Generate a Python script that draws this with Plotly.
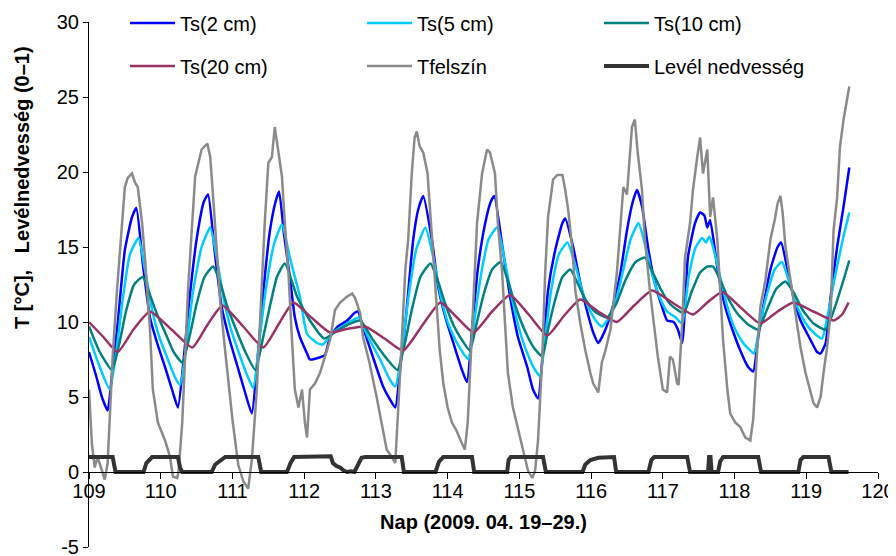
import plotly.graph_objects as go

# ---- data (day of year) ----
t_ts2 = [109.00,109.10,109.18,109.26,109.32,109.40,109.50,109.60,109.66,109.75,109.85,109.95,110.06,110.17,110.24,
         110.32,110.40,110.50,110.60,110.66,110.75,110.85,110.95,111.06,111.17,111.27,
         111.34,111.42,111.52,111.60,111.65,111.72,111.80,111.87,111.94,112.04,112.08,112.19,112.29,112.36,112.47,112.60,112.70,112.75,
         112.83,112.97,113.10,113.20,113.27,113.34,113.41,113.52,113.59,113.66,113.78,113.87,113.97,114.08,114.20,114.27,
         114.34,114.42,114.52,114.60,114.65,114.77,114.87,114.98,115.11,115.19,115.26,
         115.33,115.40,115.50,115.60,115.64,115.75,115.85,115.94,116.03,116.10,116.20,116.30,116.41,116.50,116.58,116.64,
         116.71,116.80,116.89,116.99,117.06,117.15,117.21,117.27,117.35,117.45,117.52,117.58,117.62,117.66,
         117.77,117.87,117.97,118.08,118.19,118.26,118.33,118.40,118.50,118.60,118.65,
         118.73,118.82,118.92,119.06,119.15,119.20,119.27,119.34,119.43,119.52,119.60]
ts2 = [8.0,6.4,5.0,4.1,6.5,9.9,14.8,17.0,17.6,13.9,10.3,8.6,7.0,5.3,4.3,
       7.5,11.5,15.5,18.0,18.5,14.8,11.0,9.0,7.2,5.4,3.9,
       7.0,11.5,16.0,18.0,18.7,15.8,13.0,10.3,9.0,7.9,7.5,7.6,7.8,9.0,9.7,10.1,10.6,10.7,
       9.5,7.5,5.7,4.8,4.3,7.0,9.9,15.5,17.5,18.4,15.5,12.3,10.3,8.6,6.8,6.0,
       9.5,13.5,16.5,18.0,18.4,14.8,11.7,9.0,7.0,5.5,4.9,
       8.1,12.1,14.8,16.6,16.9,15.0,12.6,10.8,9.3,8.6,9.5,11.0,13.3,16.1,18.0,18.8,
       17.7,14.8,12.6,11.0,10.1,10.0,9.5,8.6,14.3,16.6,17.3,17.1,16.3,16.8,
       13.3,11.0,9.5,8.1,7.0,6.7,9.0,11.0,13.5,15.0,15.3,
       13.7,11.7,10.1,8.8,8.0,7.9,8.6,11.7,15.0,17.7,20.3]

t_ts5 = [109.00,109.15,109.29,109.38,109.47,109.57,109.69,109.78,109.88,109.98,110.10,110.20,110.27,
         110.36,110.45,110.57,110.69,110.78,110.88,110.98,111.10,111.20,111.29,
         111.37,111.46,111.58,111.69,111.80,111.94,112.04,112.18,112.26,112.40,112.60,112.76,
         112.89,113.06,113.20,113.27,113.36,113.45,113.56,113.69,113.80,113.90,114.00,114.12,114.22,114.29,
         114.37,114.46,114.57,114.69,114.80,114.90,115.00,115.12,115.22,115.29,
         115.36,115.44,115.55,115.67,115.78,115.88,115.98,116.08,116.15,
         116.25,116.35,116.45,116.55,116.66,116.76,116.86,116.96,117.06,117.18,117.27,
         117.36,117.46,117.55,117.60,117.65,117.70,117.80,117.90,118.00,118.12,118.22,118.27,
         118.36,118.46,118.56,118.66,118.76,118.86,118.98,119.10,119.22,119.30,119.40,119.50,119.60]
ts5 = [9.0,7.0,5.5,8.0,11.5,14.5,15.6,13.5,10.8,9.0,7.5,6.3,5.8,
       8.5,12.0,15.0,16.3,14.3,11.5,9.5,7.8,6.5,5.6,
       8.5,12.0,15.2,16.5,14.3,11.7,9.2,8.6,8.5,9.3,9.9,10.3,
       9.0,7.5,6.1,5.7,8.0,11.5,14.8,16.3,14.3,11.8,10.0,8.7,7.9,7.5,
       10.0,13.0,15.5,16.3,14.0,11.5,9.5,7.8,6.8,6.4,
       9.0,12.0,14.5,15.3,13.8,12.0,10.8,10.0,9.7,
       10.3,11.5,13.5,15.5,16.6,15.0,13.0,11.6,10.7,10.3,9.9,
       13.0,15.0,15.6,15.3,15.7,15.0,13.0,11.0,9.6,8.6,8.1,7.9,
       10.0,12.0,13.5,14.0,12.7,11.2,10.0,9.3,8.9,10.5,13.0,15.3,17.3]

t_ts10 = [109.00,109.15,109.32,109.42,109.52,109.63,109.75,109.85,109.95,110.07,110.18,110.30,
          110.40,110.50,110.61,110.73,110.83,110.93,111.05,111.18,111.32,
          111.42,111.52,111.62,111.73,111.90,112.08,112.28,112.45,112.60,112.78,
          112.96,113.16,113.30,113.40,113.50,113.62,113.76,113.86,113.96,114.08,114.20,114.31,
          114.40,114.50,114.62,114.74,114.85,114.95,115.07,115.20,115.32,
          115.40,115.50,115.60,115.71,115.82,115.92,116.05,116.22,
          116.35,116.48,116.62,116.75,116.86,116.97,117.10,117.29,
          117.40,117.52,117.62,117.70,117.80,117.92,118.05,118.20,118.33,
          118.45,118.58,118.71,118.82,118.95,119.10,119.27,119.40,119.50,119.60]
ts10 = [9.7,8.0,6.8,8.5,10.8,12.5,13.0,11.8,10.5,9.2,8.0,7.3,
        9.0,11.2,13.0,13.7,12.6,11.0,9.5,8.0,6.8,
        8.8,11.0,13.0,13.9,11.7,10.1,8.9,9.4,9.8,10.1,
        8.8,7.5,6.8,8.5,10.8,13.0,13.9,12.8,11.3,9.8,8.8,8.1,
        9.8,11.8,13.5,14.0,12.6,11.0,9.5,8.3,7.7,
        9.5,11.5,13.0,13.5,12.5,11.5,10.7,10.3,
        11.2,12.8,14.0,14.3,13.3,12.2,11.2,10.6,
        12.0,13.3,13.7,13.7,12.8,11.5,10.5,9.8,9.5,
        10.8,12.2,12.7,12.0,10.8,9.9,9.5,11.0,12.5,14.1]

t_ts20 = [109.00,109.20,109.40,109.62,109.85,110.15,110.44,110.65,110.86,111.15,111.43,111.65,111.85,
          112.10,112.36,112.60,112.85,113.12,113.38,113.65,113.90,114.13,114.36,114.62,114.87,
          115.13,115.39,115.62,115.85,116.10,116.36,116.60,116.85,117.13,117.42,117.62,117.83,
          118.10,118.36,118.60,118.82,119.10,119.38,119.50,119.59]
ts20 = [10.0,9.0,8.0,9.5,10.7,9.5,8.3,9.8,11.1,9.7,8.3,9.9,11.3,
        10.3,9.3,9.55,9.7,8.9,8.1,9.8,11.3,10.3,9.3,10.7,11.8,
        10.5,9.1,10.4,11.5,10.7,10.0,11.1,12.1,11.3,10.5,11.3,12.0,
        10.9,9.9,10.7,11.3,10.7,10.1,10.5,11.3]

t_surf = [109.00,109.04,109.08,109.12,109.18,109.22,109.26,109.29,109.33,109.39,109.46,109.50,109.54,109.60,109.64,109.68,
          109.74,109.78,109.85,109.89,109.96,110.06,110.13,110.17,110.23,110.25,
          110.30,110.38,110.48,110.57,110.65,110.69,110.74,110.83,110.90,111.00,111.08,111.15,111.22,
          111.27,111.34,111.38,111.45,111.50,111.55,111.59,111.64,111.69,111.73,111.78,111.83,111.87,111.92,111.97,112.01,112.04,
          112.08,112.15,112.22,112.29,112.36,112.43,112.50,112.60,112.67,112.71,112.78,112.82,112.91,113.01,113.09,113.15,113.22,113.27,
          113.34,113.41,113.45,113.50,113.54,113.57,113.61,113.66,113.72,113.76,113.80,113.85,113.89,113.94,114.00,114.06,114.12,114.20,114.24,
          114.28,114.34,114.41,114.48,114.55,114.59,114.66,114.70,114.76,114.80,114.84,114.91,114.98,115.05,115.12,115.18,115.22,
          115.26,115.32,115.36,115.40,115.47,115.53,115.60,115.64,115.68,115.74,115.78,115.85,115.92,115.99,116.03,116.10,
          116.15,116.20,116.27,116.36,116.43,116.45,116.50,116.55,116.57,116.61,116.65,116.71,116.75,116.82,116.89,116.93,117.00,117.06,
          117.10,117.14,117.20,117.22,117.27,117.31,117.38,117.42,117.48,117.52,117.56,117.62,117.66,117.70,117.76,117.80,117.84,117.90,
          117.94,118.01,118.08,118.15,118.22,118.26,118.31,118.36,118.43,118.50,118.56,118.60,118.64,118.67,118.71,118.78,118.85,118.92,
          118.99,119.06,119.10,119.15,119.20,119.24,119.29,119.34,119.38,119.43,119.47,119.52,119.57,119.60]
surf = [5.5,1.9,0.3,1.0,0.1,-0.5,0.6,3.3,7.7,12.1,16.6,19.0,19.6,19.9,19.3,19.0,
        16.6,14.3,9.5,5.5,3.3,2.1,1.0,-0.3,-0.4,0.1,
        3.3,12.1,19.7,21.5,21.9,21.0,17.7,11.3,8.0,3.5,0.5,-0.6,-1.1,
        0.8,5.5,9.9,16.6,20.6,21.0,23.0,21.5,19.7,16.6,13.3,8.8,5.5,4.3,5.5,3.3,2.3,
        5.5,5.9,6.6,7.7,8.8,10.8,11.3,11.7,11.9,11.6,10.6,9.0,7.3,5.0,3.0,1.5,1.0,0.6,
        6.8,13.5,15.5,19.9,22.3,22.7,21.7,21.3,19.9,17.0,14.3,11.0,8.1,5.9,4.3,3.3,2.8,1.9,1.5,
        3.3,9.9,16.6,19.9,21.5,21.3,19.9,16.6,13.3,9.9,6.6,4.3,2.8,1.5,0.1,-0.4,0.1,
        2.1,7.7,13.3,17.0,19.5,19.8,19.8,18.8,17.5,14.8,12.1,9.9,8.1,6.6,5.9,5.3,
        7.3,8.1,9.5,13.3,17.7,19.0,18.5,22.1,23.0,23.5,21.3,18.8,15.5,12.1,9.5,7.7,5.5,5.3,
        7.7,7.5,5.9,5.8,9.9,14.3,16.6,18.8,21.0,22.3,19.9,21.5,17.0,18.3,15.5,12.1,8.8,5.5,
        3.9,3.3,3.0,2.3,2.1,3.5,7.7,11.0,12.8,15.5,16.8,17.9,18.4,17.3,15.0,12.8,10.6,8.3,
        6.6,5.3,4.6,4.3,5.0,6.6,8.3,10.6,16.1,18.3,21.7,23.5,25.0,25.7]

t_leaf = [109.00,109.33,109.37,109.76,109.80,109.86,109.88,110.24,110.27,110.30,110.71,110.76,110.84,110.90,111.36,111.40,
          111.76,111.81,111.86,112.33,112.37,112.40,112.45,112.50,112.55,112.60,112.65,112.70,112.73,112.76,112.80,112.85,
          113.36,113.39,113.83,113.88,113.94,114.34,114.37,114.83,114.85,114.88,115.33,115.37,
          115.88,115.92,115.99,116.10,116.22,116.32,116.35,116.80,116.84,116.88,117.34,117.38,
          117.63,117.645,117.665,117.68,117.77,117.80,117.84,118.33,118.37,118.89,118.92,118.96,119.31,119.35,119.59]
leaf = [1,1,0,0,0.6,0.95,1,1,0.3,0,0,0.5,0.8,1,1,0,
        0,0.6,1,1,1.05,0.6,0.4,0.3,0.1,0.0,0.05,0.0,0.3,0.7,0.95,1.0,
        1,0,0,0.7,1,1,0,0,0.8,1,1,0,
        0,0.5,0.8,0.95,1.0,1.0,0,0,0.8,1,1,0,
        0,1,1,0,0,0.7,1,1,0,0,0.8,1,1,0,0]

x_ticks = list(range(109, 121))
y_ticks = [-5, 0, 5, 10, 15, 20, 25, 30]
y_tick_text = ["-5", "0", "5", "10", "15", "20", "25", "30"]

FONT = "Liberation Sans, Arial, sans-serif"

fig = go.Figure()
series = [
    ("Ts(2 cm)", t_ts2, ts2, "#0000FF", 2.5, "spline", "legend"),
    ("Ts(5 cm)", t_ts5, ts5, "#00CCFF", 2.5, "spline", "legend"),
    ("Ts(10 cm)", t_ts10, ts10, "#008080", 2.5, "spline", "legend"),
    ("Ts(20 cm)", t_ts20, ts20, "#993366", 2.5, "spline", "legend2"),
    ("Tfelszín", t_surf, surf, "#8A8A8A", 2.5, "linear", "legend2"),
    ("Levél nedvesség", t_leaf, leaf, "#333333", 4, "linear", "legend2"),
]
for name, xs, ys, col, w, shape, lg in series:
    line = dict(color=col, width=w, shape=shape)
    if shape == "spline":
        line["smoothing"] = 0.5
    fig.add_trace(go.Scatter(x=xs, y=ys, mode="lines", name=name, line=line, legend=lg))

leg_common = dict(orientation="h", xref="paper", yref="paper", x=0.0456, xanchor="left",
                  yanchor="middle", entrywidth=177, entrywidthmode="pixels", itemwidth=45,
                  font=dict(family=FONT, size=20, color="black"), bgcolor="rgba(0,0,0,0)",
                  itemclick=False)

fig.update_layout(
    width=896, height=556,
    margin=dict(l=81, r=26, t=14, b=17, autoexpand=False),
    paper_bgcolor="white", plot_bgcolor="white",
    font=dict(family=FONT, size=20, color="black"),
    legend=dict(y=0.998, **leg_common),
    legend2=dict(y=0.916, **leg_common),
    xaxis=dict(range=[109, 120], tickvals=x_ticks, ticks="outside", ticklen=6, tickwidth=1,
               tickcolor="black", showline=True, linecolor="black", linewidth=1,
               showgrid=False, zeroline=False, anchor="free", position=5/35, automargin=False,
               ticklabelstandoff=-5,
               tickfont=dict(family=FONT, size=20, color="black"),
               title=dict(text="<b>Nap (2009. 04. 19–29.)</b>", standoff=13,
                          font=dict(family=FONT, size=20, color="black"))),
    yaxis=dict(range=[-5, 30], tickvals=y_ticks, ticktext=y_tick_text, ticks="outside",
               ticklen=5, tickwidth=1, tickcolor="black", showline=True, linecolor="black",
               linewidth=1, showgrid=False, zeroline=False, automargin=False,
               tickfont=dict(family=FONT, size=20, color="black")),
    annotations=[dict(text="<b>T [°C],\u00a0\u00a0\u00a0Levélnedvesség (0–1)</b>", textangle=-90,
                      xref="paper", yref="paper", x=-0.0849, y=0.684, xanchor="center",
                      yanchor="middle", showarrow=False,
                      font=dict(family=FONT, size=20, color="black"))],
)

fig.write_html("out.html")
